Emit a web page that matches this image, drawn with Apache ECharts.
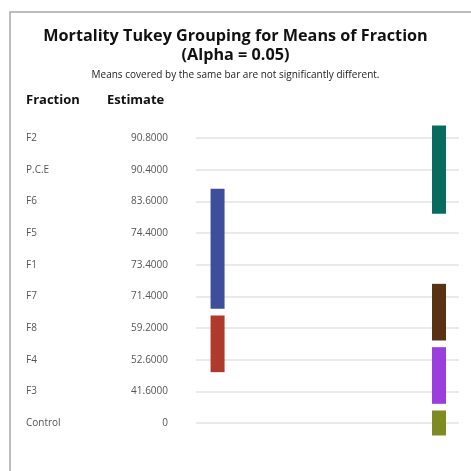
<!DOCTYPE html>
<html><head><meta charset="utf-8">
<script src="https://cdn.jsdelivr.net/npm/echarts@6/dist/echarts.min.js"></script>
<style>html,body{margin:0;padding:0;background:#fff}#c{width:471px;height:471px}</style>
</head><body><div id="c"></div>
<script>
const fractions = ['F2','P.C.E','F6','F5','F1','F7','F8','F4','F3','Control'];
const estimates = [90.8, 90.4, 83.6, 74.4, 73.4, 71.4, 59.2, 52.6, 41.6, 0];
// Tukey grouping bars: column (0 = left, 1 = right), first row, last row
const groupColumn = [1, 0, 1, 0, 1, 1];
const groupStart  = [0, 2, 5, 6, 7, 9];
const groupEnd    = [2, 5, 6, 7, 8, 9];
const groupColors = ['#086b5e', '#3d4f9c', '#583212', '#b0392c', '#9a3fdd', '#7e8a22'];
const columnX = [0.082, 0.924];

const estLabels = estimates.map(v => v === 0 ? '0' : v.toFixed(4));
const groupData = groupColumn.map((c, i) => ({
  value: [columnX[c], groupStart[i], groupEnd[i]],
  itemStyle: { color: groupColors[i] }
}));

const chart = echarts.init(document.getElementById('c'));
chart.setOption({
  animation: false,
  backgroundColor: '#fff',
  grid: { left: 196, right: 12, top: 138, bottom: 48, outerBoundsMode: 'none', containLabel: false },
  title: [
    { text: 'Mortality Tukey Grouping for Means of Fraction\n(Alpha = 0.05)', left: 'center', top: 22,
      textStyle: { fontFamily: 'Open Sans', fontWeight: 'bold', fontSize: 16.2, color: '#111', lineHeight: 19 } },
    { text: 'Means covered by the same bar are not significantly different.', left: 'center', top: 65,
      textStyle: { fontFamily: 'Open Sans', fontWeight: 'normal', fontSize: 10, color: '#222' } }
  ],
  graphic: [
    { type: 'polyline', shape: { points: [[10, 471], [10, 12], [471, 12]] }, style: { stroke: '#a8a8a8', lineWidth: 1.5, fill: null } },
    { type: 'text', left: 26, top: 94, style: { text: 'Fraction', font: 'bold 13px "Open Sans"', fill: '#111' } },
    { type: 'text', left: 107, top: 94, style: { text: 'Estimate', font: 'bold 13px "Open Sans"', fill: '#111' } }
  ],
  xAxis: { type: 'value', min: 0, max: 1, show: false },
  yAxis: [
    { type: 'category', data: fractions, inverse: true, boundaryGap: false,
      axisLine: { show: false }, axisTick: { show: false },
      axisLabel: { align: 'left', margin: 170, fontFamily: 'Open Sans', fontSize: 10, color: '#555' },
      splitLine: { show: true, lineStyle: { color: '#e3e3e3', width: 1.5 } } },
    { type: 'category', data: estLabels, inverse: true, boundaryGap: false, position: 'left',
      axisLine: { show: false }, axisTick: { show: false },
      axisLabel: { align: 'right', margin: 28, fontFamily: 'Open Sans', fontSize: 10, color: '#555' },
      splitLine: { show: false } }
  ],
  series: [{
    type: 'custom',
    clip: false,
    data: groupData,
    renderItem: function (params, api) {
      const x = api.value(0);
      const p0 = api.coord([x, api.value(1)]);
      const p1 = api.coord([x, api.value(2)]);
      const w = 14, pad = 12.5;
      return { type: 'rect', shape: { x: p0[0] - w / 2, y: p0[1] - pad, width: w, height: p1[1] - p0[1] + 2 * pad },
        style: { fill: api.visual('color') } };
    }
  }]
});
</script></body></html>
